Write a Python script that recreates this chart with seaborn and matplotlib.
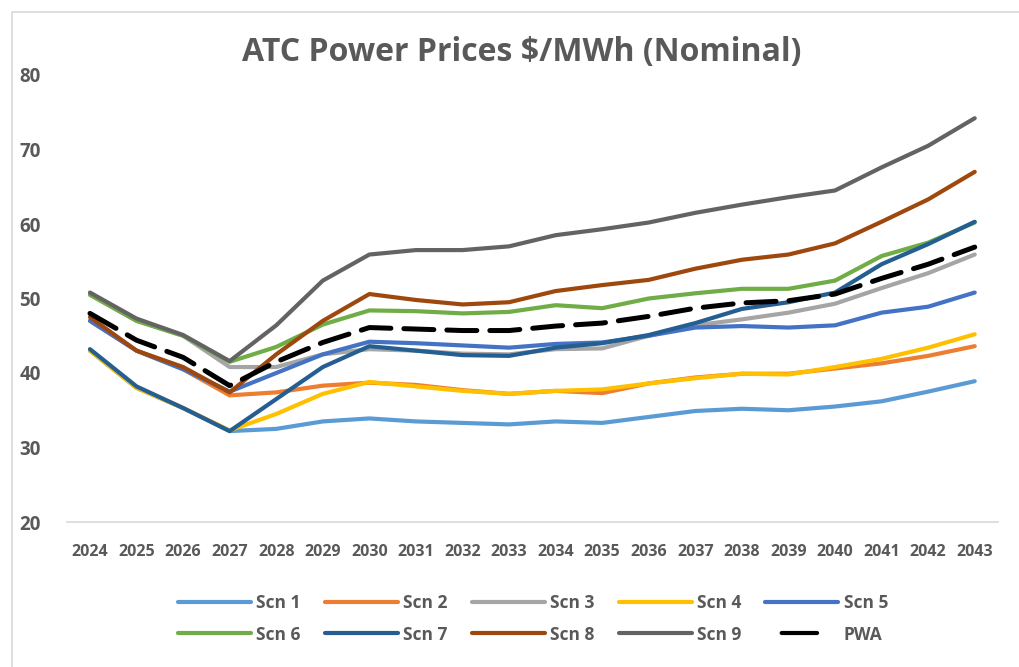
import matplotlib
matplotlib.use("Agg")
import matplotlib.pyplot as plt
from matplotlib.lines import Line2D
from matplotlib.patches import Rectangle
import seaborn as sns
import pandas as pd

years = list(range(2024, 2044))

scn1 = [43.0, 38.0, 35.3, 32.2, 32.5, 33.5, 33.9, 33.5, 33.3, 33.1, 33.5, 33.3, 34.1, 34.9, 35.2, 35.0, 35.5, 36.2, 37.5, 38.9]
scn2 = [47.0, 43.0, 40.5, 37.0, 37.4, 38.3, 38.7, 38.4, 37.7, 37.2, 37.6, 37.3, 38.6, 39.4, 39.9, 39.9, 40.6, 41.3, 42.3, 43.6]
scn3 = [50.5, 47.0, 45.0, 40.8, 40.8, 42.5, 43.2, 43.0, 42.6, 42.5, 43.2, 43.3, 45.0, 46.4, 47.2, 48.1, 49.3, 51.4, 53.4, 55.9]
scn4 = [43.0, 38.0, 35.3, 32.3, 34.5, 37.2, 38.8, 38.2, 37.6, 37.2, 37.6, 37.8, 38.6, 39.3, 39.9, 39.8, 40.8, 41.9, 43.4, 45.2]
scn5 = [47.0, 43.0, 40.5, 37.5, 40.0, 42.5, 44.2, 44.0, 43.7, 43.4, 43.9, 44.1, 45.0, 46.1, 46.3, 46.1, 46.4, 48.1, 48.9, 50.8]
scn6 = [50.5, 47.0, 45.0, 41.5, 43.5, 46.5, 48.4, 48.3, 48.0, 48.2, 49.1, 48.7, 50.0, 50.7, 51.3, 51.3, 52.4, 55.7, 57.5, 60.2]
scn7 = [43.2, 38.2, 35.3, 32.2, 36.5, 40.8, 43.6, 43.0, 42.4, 42.3, 43.4, 44.0, 45.1, 46.7, 48.6, 49.5, 50.8, 54.6, 57.3, 60.3]
scn8 = [47.5, 43.0, 40.8, 37.4, 42.5, 47.0, 50.6, 49.8, 49.2, 49.5, 51.0, 51.8, 52.5, 54.0, 55.2, 55.9, 57.4, 60.3, 63.3, 67.0]
scn9 = [50.8, 47.3, 45.1, 41.6, 46.4, 52.4, 55.9, 56.5, 56.5, 57.0, 58.5, 59.3, 60.2, 61.5, 62.6, 63.6, 64.5, 67.6, 70.5, 74.2]
pwa = [48.0, 44.4, 42.1, 38.3, 41.5, 44.1, 46.1, 45.9, 45.7, 45.7, 46.3, 46.7, 47.6, 48.7, 49.4, 49.7, 50.6, 52.7, 54.6, 56.9]

series_names = ["Scn 1", "Scn 2", "Scn 3", "Scn 4", "Scn 5", "Scn 6", "Scn 7", "Scn 8", "Scn 9", "PWA"]
series_values = [scn1, scn2, scn3, scn4, scn5, scn6, scn7, scn8, scn9, pwa]
colors = ["#5B9BD5", "#ED7D31", "#A5A5A5", "#FFC000", "#4472C4",
          "#70AD47", "#255E91", "#9E480E", "#636363", "#000000"]

title = "ATC Power Prices $/MWh (Nominal)"

sns.set_theme(style="white")
plt.rcParams["font.family"] = ["Open Sans", "DejaVu Sans"]
TXT = "#595959"

fig = plt.figure(figsize=(10.2, 6.67), dpi=100)
ax = fig.add_axes([66.7 / 1020, 1 - 522 / 667, (998 - 66.7) / 1020, (522 - 75) / 667])

LW = 3.0
for name, vals, col in zip(series_names, series_values, colors):
    df = pd.DataFrame({"Year": years, "Price": vals})
    sns.lineplot(data=df, x="Year", y="Price", color=col, linewidth=LW, ax=ax,
                 legend=False, solid_capstyle="round")
    line = ax.lines[-1]
    if name == "PWA":
        line.set_linewidth(3.6)
        line.set_dashes((6, 2.6))
        line.set_dash_capstyle("round")

ax.set_xlim(2023.5, 2043.5)
ax.set_ylim(20, 80)
ax.set_xticks(years)
ax.set_xticklabels([str(y) for y in years], fontsize=11.5, fontweight="bold", color=TXT)
ax.set_yticks(range(20, 81, 10))
ax.set_yticklabels([str(v) for v in range(20, 81, 10)], fontsize=13.5, fontweight="bold", color=TXT)
for lab in ax.get_yticklabels():
    lab.set_horizontalalignment("left")
ax.tick_params(axis="y", length=0, pad=34)
ax.tick_params(axis="x", length=0, pad=16)
ax.set_xlabel("")
ax.set_ylabel("")
for s in ["top", "right", "left"]:
    ax.spines[s].set_visible(False)
ax.spines["bottom"].set_color("#D9D9D9")
ax.spines["bottom"].set_linewidth(1.2)
ax.grid(False)

fig.text(522 / 1020, 1 - 53 / 667, title, ha="center", va="center",
         fontsize=23, fontweight="bold", color=TXT)

handles = []
for name, col in zip(series_names, colors):
    if name == "PWA":
        h = Line2D([0], [0], color=col, linewidth=LW, linestyle=(14.5, (8.5, 10)),
                   solid_capstyle="round", dash_capstyle="round")
    else:
        h = Line2D([0], [0], color=col, linewidth=LW, solid_capstyle="round")
    handles.append(h)

# legend fills column-wise; reorder so that it reads row by row
order = [0, 5, 1, 6, 2, 7, 3, 8, 4, 9]
leg = fig.legend([handles[i] for i in order], [series_names[i] for i in order],
                 loc="center", ncol=5,
                 bbox_to_anchor=(533 / 1020, 1 - 619 / 667), frameon=False,
                 handlelength=4.2, handletextpad=0.3, columnspacing=1.4,
                 labelspacing=0.75,
                 prop={"family": ["Open Sans", "DejaVu Sans"], "weight": "bold", "size": 12.5})
for t in leg.get_texts():
    t.set_color(TXT)

fig.patches.append(Rectangle((12 / 1020, -0.05), 1.1, 1 - 12 / 667 + 0.05,
                             transform=fig.transFigure, fill=False,
                             edgecolor="#D9D9D9", linewidth=1.2))

fig.savefig("out.png", dpi=100)
